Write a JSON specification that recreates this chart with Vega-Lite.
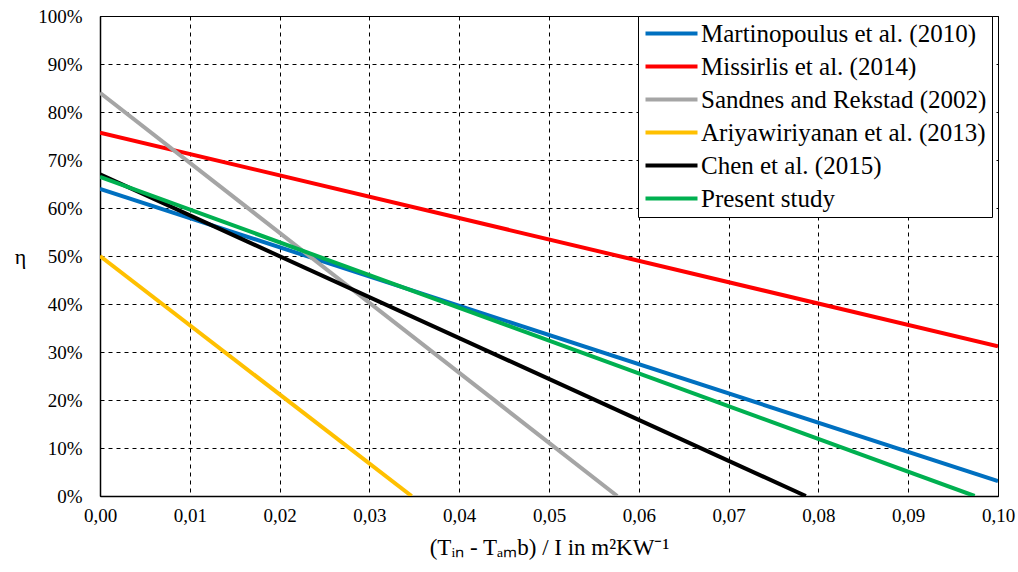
{
  "$schema": "https://vega.github.io/schema/vega-lite/v6.json",
  "width": 898,
  "height": 480,
  "autosize": {"type": "none"},
  "padding": {"left": 100, "top": 16, "right": 20, "bottom": 76},
  "background": "white",
  "config": {
    "view": {"stroke": "black", "strokeWidth": 1},
    "axisX": {"labelFont": "Liberation Serif", "titleFont": "Liberation Serif", "labelFontSize": 19},
    "axisY": {"labelFont": "Liberation Serif", "titleFont": "Liberation Serif", "labelFontSize": 19}
  },
  "data": {
    "values": [
      {"series": "Martinopoulus et al. (2010)", "x": 0, "eta": 0.64},
      {"series": "Martinopoulus et al. (2010)", "x": 0.1, "eta": 0.031},
      {"series": "Missirlis et al. (2014)", "x": 0, "eta": 0.757},
      {"series": "Missirlis et al. (2014)", "x": 0.1, "eta": 0.312},
      {"series": "Sandnes and Rekstad (2002)", "x": 0, "eta": 0.84},
      {"series": "Sandnes and Rekstad (2002)", "x": 0.0576, "eta": 0},
      {"series": "Ariyawiriyanan et al. (2013)", "x": 0, "eta": 0.5},
      {"series": "Ariyawiriyanan et al. (2013)", "x": 0.0347, "eta": 0},
      {"series": "Chen et al. (2015)", "x": 0, "eta": 0.67},
      {"series": "Chen et al. (2015)", "x": 0.0786, "eta": 0},
      {"series": "Present study", "x": 0, "eta": 0.665},
      {"series": "Present study", "x": 0.0974, "eta": 0}
    ]
  },
  "mark": {"type": "line", "strokeWidth": 4, "clip": true},
  "encoding": {
    "x": {
      "field": "x", "type": "quantitative",
      "scale": {"domain": [0, 0.1], "nice": false},
      "axis": {
        "values": [0, 0.01, 0.02, 0.03, 0.04, 0.05, 0.06, 0.07, 0.08, 0.09, 0.1],
        "labelExpr": "replace(format(datum.value, '.2f'), '.', ',')",
        "title": "(Tᵢₙ - Tₐₘb) / I in m²KW⁻¹",
        "titleFont": "Liberation Serif", "labelFont": "Liberation Serif",
        "titleFontSize": 23, "titleFontWeight": "normal", "titleColor": "black",
        "titlePadding": 11,
        "labelColor": "black", "labelPadding": 10, "labelFlush": false,
        "ticks": false, "domainColor": "black", "domainWidth": 1.5,
        "grid": true, "gridColor": "black", "gridDash": [4, 4], "gridWidth": 1, "gridOpacity": 1
      }
    },
    "y": {
      "field": "eta", "type": "quantitative",
      "scale": {"domain": [0, 1], "nice": false},
      "axis": {
        "values": [0, 0.1, 0.2, 0.3, 0.4, 0.5, 0.6, 0.7, 0.8, 0.9, 1],
        "labelExpr": "format(datum.value, '.0%')",
        "title": "η", "titleAngle": 0, "titleAlign": "center", "titleBaseline": "middle",
        "titleFont": "Liberation Serif", "labelFont": "Liberation Serif",
        "titleFontSize": 22, "titleFontWeight": "normal", "titleColor": "black",
        "titleX": -80, "titleY": 240,
        "labelColor": "black", "labelPadding": 18, "labelFlush": false,
        "ticks": false, "domainColor": "black", "domainWidth": 1.5,
        "grid": true, "gridColor": "black", "gridDash": [4, 4], "gridWidth": 1, "gridOpacity": 1
      }
    },
    "color": {
      "field": "series", "type": "nominal",
      "scale": {
        "domain": ["Martinopoulus et al. (2010)", "Missirlis et al. (2014)", "Sandnes and Rekstad (2002)", "Ariyawiriyanan et al. (2013)", "Chen et al. (2015)", "Present study"],
        "range": ["#0070C0", "#FF0000", "#A5A5A5", "#FFC000", "#000000", "#00B050"]
      },
      "legend": {
        "title": null,
        "orient": "none", "legendX": 538, "legendY": 0,
        "fillColor": "white", "strokeColor": "black", "padding": 5,
        "symbolType": "M-2.6,0H2.6", "symbolSize": 400, "symbolStrokeWidth": 4, "symbolOffset": 16,
        "labelFont": "Liberation Serif", "labelFontSize": 25, "labelColor": "black", "labelOffset": 17,
        "rowPadding": 7, "labelLimit": 400
      }
    }
  }
}
